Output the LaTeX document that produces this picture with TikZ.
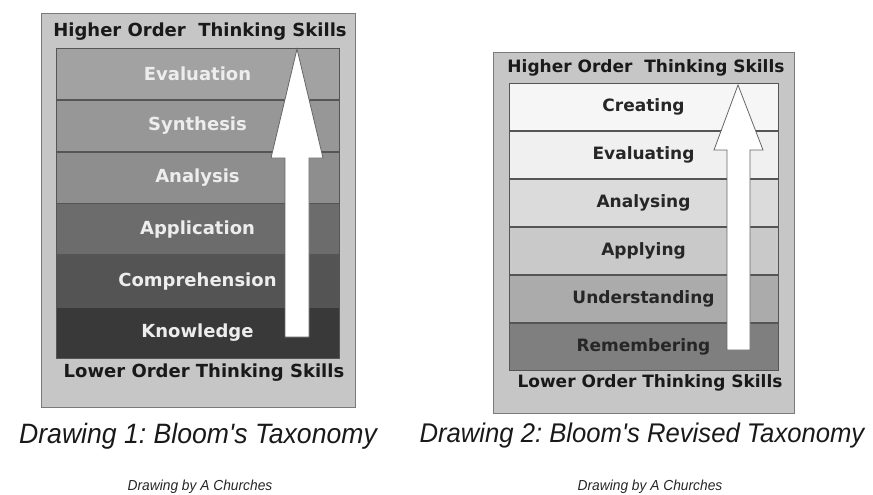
\documentclass[tikz,border=0pt]{standalone}
\usepackage{fontspec}
\setmainfont{Liberation Sans}
\newfontfamily\levelfont{DejaVu Sans}
\newfontfamily\capfont{Liberation Sans}[FakeStretch=0.95]
\usetikzlibrary{positioning}
\frenchspacing
\definecolor{framegray}{HTML}{7A7A7A}
\definecolor{boxgray}{HTML}{C6C6C6}
\definecolor{rowline}{HTML}{555555}
\definecolor{lone}{HTML}{A2A2A2}
\definecolor{ltwo}{HTML}{979797}
\definecolor{lthree}{HTML}{8E8E8E}
\definecolor{lfour}{HTML}{6C6C6C}
\definecolor{lfive}{HTML}{545454}
\definecolor{lsix}{HTML}{393939}
\definecolor{rone}{HTML}{F6F6F6}
\definecolor{rtwo}{HTML}{F0F0F0}
\definecolor{rthree}{HTML}{DBDBDB}
\definecolor{rfour}{HTML}{C9C9C9}
\definecolor{rfive}{HTML}{ABABAB}
\definecolor{rsix}{HTML}{7F7F7F}
\tikzset{
    frame/.style={draw=framegray, fill=boxgray, line width=1pt},
    level/.style={draw=rowline, line width=0.8pt, inner sep=0pt, anchor=north},
    oldlevel/.style={level, minimum width=283pt, minimum height=51pt, text=white!93!black,
        font=\levelfont\bfseries\fontsize{18}{18}\selectfont},
    newlevel/.style={level, minimum width=269pt, minimum height=47.2pt, text=black!85,
        font=\levelfont\bfseries\fontsize{17}{17}\selectfont},
    heading/.style={font=\levelfont\bfseries\fontsize{18}{18}\selectfont, text=black!90},
    newheading/.style={heading, font=\levelfont\bfseries\fontsize{17}{17}\selectfont},
    uparrow/.style={draw=black!60, fill=white, line width=0.8pt},
    caption/.style={font=\capfont\itshape\fontsize{28}{28}\selectfont, text=black!90},
    credit/.style={font=\capfont\itshape\fontsize{14.5}{14.5}\selectfont, text=black!85}}

\begin{document}
\begin{tikzpicture}[x=1pt,y=-1pt]
\useasboundingbox (0,0) rectangle (873,495);

% Drawing 1
\draw[frame] (41,14) rectangle (355,407);
\node[heading] (hots1) at (200,32) {Higher Order\ \ Thinking Skills};
\node[oldlevel, fill=lone]   (eval1)  at (197.5,48)      {Evaluation};
\node[oldlevel, fill=ltwo]   (synth1) [below=0pt of eval1]  {Synthesis};
\node[oldlevel, fill=lthree] (anal1)  [below=0pt of synth1] {Analysis};
\node[oldlevel, fill=lfour]  (appl1)  [below=0pt of anal1]  {Application};
\node[oldlevel, fill=lfive]  (comp1)  [below=0pt of appl1]  {Comprehension};
\node[oldlevel, fill=lsix]   (know1)  [below=0pt of comp1]  {Knowledge};
\node[heading] (lots1) at (204,373) {Lower Order Thinking Skills};
\draw[uparrow] (297,49) -- (323,158) -- (309,158) -- (309,337)
    -- (285,337) -- (285,158) -- (271,158) -- cycle;

% Drawing 2
\draw[frame] (493,53) rectangle (794,413);
\node[newheading] (hots2) at (646,68) {Higher Order\ \ Thinking Skills};
\node[newlevel, fill=rone]   (crea2)  at (643.5,83)       {Creating};
\node[newlevel, fill=rtwo]   (eval2)  [below=0pt of crea2]  {Evaluating};
\node[newlevel, fill=rthree] (anal2)  [below=0pt of eval2]  {Analysing};
\node[newlevel, fill=rfour]  (appl2)  [below=0pt of anal2]  {Applying};
\node[newlevel, fill=rfive]  (unde2)  [below=0pt of appl2]  {Understanding};
\node[newlevel, fill=rsix]   (reme2)  [below=0pt of unde2]  {Remembering};
\node[newheading] (lots2) at (650,383) {Lower Order Thinking Skills};
\draw[uparrow] (738,85) -- (763,150) -- (750,150) -- (750,350)
    -- (727,350) -- (727,150) -- (714,150) -- cycle;

\node[caption] (cap1) at (198,436) {Drawing 1: Bloom\textquotesingle s Taxonomy};
\node[caption, font=\capfont\itshape\fontsize{27}{27}\selectfont] (cap2) at (642,436)
    {Drawing 2: Bloom\textquotesingle s Revised Taxonomy};
\node[credit] (by1) at (200,487) {Drawing by A Churches};
\node[credit] (by2) at (650,487) {Drawing by A Churches};
\end{tikzpicture}
\end{document}
